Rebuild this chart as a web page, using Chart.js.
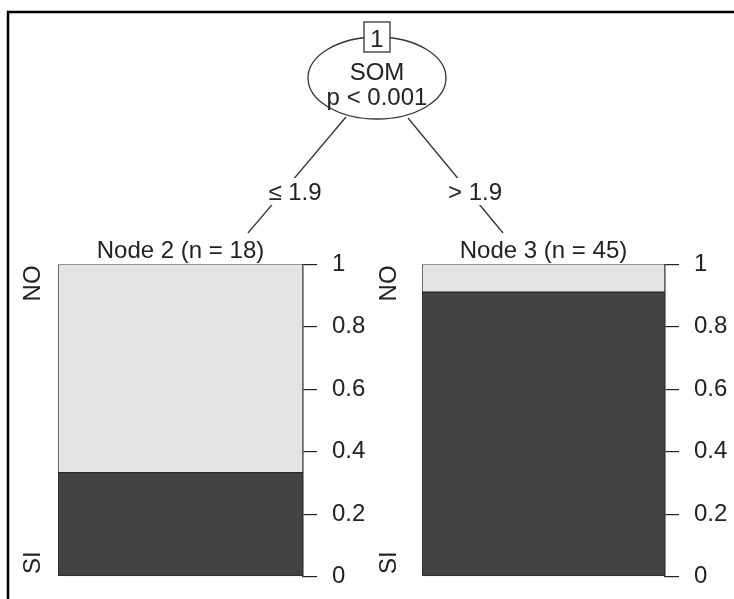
<!DOCTYPE html>
<html>
<head>
<meta charset="utf-8">
<script src="https://cdn.jsdelivr.net/npm/chart.js@4.4.1/dist/chart.umd.min.js"></script>
<style>
  html, body { margin: 0; padding: 0; background: #fff; overflow: hidden; }
  #wrap { position: relative; width: 734px; height: 599px; overflow: hidden; }
  canvas, svg { position: absolute; }
  svg { left: 0; top: 0; }
  svg text { font-family: "Liberation Sans", Arial, sans-serif; font-size: 24px; fill: #222; text-anchor: middle; }
</style>
</head>
<body>
<div id="wrap">
  <canvas id="node2" width="362" height="371" style="left:10px; top:235px;"></canvas>
  <canvas id="node3" width="360" height="371" style="left:374px; top:235px;"></canvas>
  <svg width="734" height="599">
    <path d="M8,599 V12 H734" fill="none" stroke="#000" stroke-width="2.5"/>
    <!-- edges -->
    <line x1="346" y1="117" x2="248" y2="233" stroke="#333" stroke-width="1.3"/>
    <line x1="408" y1="118" x2="503" y2="233" stroke="#333" stroke-width="1.3"/>
    <rect x="266" y="178" width="58" height="27" fill="#fff"/>
    <rect x="446" y="178" width="58" height="27" fill="#fff"/>
    <text x="295" y="200">≤ 1.9</text>
    <text x="475" y="200">&gt; 1.9</text>
    <!-- inner node -->
    <ellipse cx="377" cy="78" rx="69" ry="41" fill="#fff" stroke="#333" stroke-width="1.3"/>
    <rect x="364" y="22" width="26" height="30" fill="#fff" stroke="#333" stroke-width="1.3"/>
    <text x="377" y="47">1</text>
    <text x="377" y="80">SOM</text>
    <text x="377" y="105">p &lt; 0.001</text>
  </svg>
</div>
<script>
// class levels, bottom first
const classes = ['SI', 'NO'];
const nodeIds = [2, 3];
const nodeN = [18, 45];
// proportions per terminal node
const propSI = [0.333, 0.911];
const propNO = [0.667, 0.089];
const tickValues = [0, 0.2, 0.4, 0.6, 0.8, 1];

const FONT = '"Liberation Sans", Arial, sans-serif';

// node title + rotated class labels
const panelText = {
  id: 'panelText',
  afterDraw(chart, args, opts) {
    const ctx = chart.ctx;
    const a = chart.chartArea;
    ctx.save();
    ctx.fillStyle = '#222';
    ctx.font = '24px ' + FONT;
    ctx.textAlign = 'center';
    ctx.textBaseline = 'alphabetic';
    ctx.fillText(opts.title, (a.left + a.right) / 2, a.top - 6);
    const x = a.left - opts.labelOffset;
    const spots = [[classes[0], a.bottom - 14], [classes[1], a.top + 19]];
    spots.forEach(([txt, y]) => {
      ctx.save();
      ctx.translate(x, y);
      ctx.rotate(-Math.PI / 2);
      ctx.textBaseline = 'middle';
      ctx.fillText(txt, 0, 0);
      ctx.restore();
    });
    ctx.restore();
  }
};

function makePanel(id, i, labelOffset) {
  const ctx = document.getElementById(id).getContext('2d');
  return new Chart(ctx, {
    type: 'bar',
    data: {
      labels: ['Node ' + nodeIds[i]],
      datasets: [
        {
          label: classes[0],
          data: [propSI[i]],
          backgroundColor: '#434343',
          borderColor: '#2a2a2a',
          borderWidth: 1,
          borderSkipped: false,
          barPercentage: 1,
          categoryPercentage: 1
        },
        {
          label: classes[1],
          data: [propNO[i]],
          backgroundColor: '#e4e4e4',
          borderColor: '#2a2a2a',
          borderWidth: 1,
          borderSkipped: false,
          barPercentage: 1,
          categoryPercentage: 1
        }
      ]
    },
    options: {
      responsive: false,
      animation: false,
      // the y ticks add label height/2 + padding above and below the area
      layout: { padding: { left: 48, right: 0, top: 0, bottom: 0 } },
      plugins: {
        legend: { display: false },
        tooltip: { enabled: false },
        panelText: { title: 'Node ' + nodeIds[i] + ' (n = ' + nodeN[i] + ')', labelOffset: labelOffset }
      },
      scales: {
        x: { display: false, stacked: true },
        y: {
          position: 'right',
          stacked: true,
          min: 0,
          max: 1,
          afterBuildTicks: (scale) => { scale.ticks = tickValues.map(v => ({ value: v })); },
          afterFit: (scale) => { scale.width = 69; },
          grid: { drawOnChartArea: false, drawTicks: true, tickLength: 14, color: '#222', lineWidth: 1.2 },
          border: { display: true, color: '#222', width: 1.5 },
          ticks: {
            padding: 15,
            color: '#222',
            font: { family: FONT, size: 24 },
            callback: (v) => String(v)
          }
        }
      }
    },
    plugins: [panelText]
  });
}

makePanel('node2', 0, 25);
makePanel('node3', 1, 33);
</script>
</body>
</html>
